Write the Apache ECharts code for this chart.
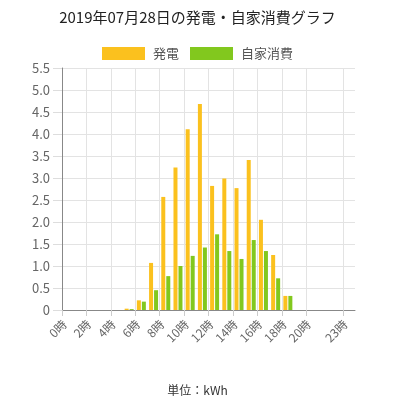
<!DOCTYPE html>
<html>
<head>
<meta charset="utf-8">
<script src="https://cdn.jsdelivr.net/npm/echarts@6/dist/echarts.min.js"></script>
<style>
html,body{margin:0;padding:0;background:#fff;}
#main{width:395px;height:400px;}
</style>
</head>
<body>
<div id="main"></div>
<script>
const hours = [0,1,2,3,4,5,6,7,8,9,10,11,12,13,14,15,16,17,18,19,20,21,22,23];
const generation = [0,0,0,0,0,0.03,0.22,1.07,2.57,3.24,4.11,4.68,2.82,2.99,2.77,3.41,2.05,1.25,0.32,0,0,0,0,0];
const selfUse    = [0,0,0,0,0,0.02,0.19,0.45,0.77,1.0,1.23,1.42,1.72,1.34,1.16,1.59,1.34,0.72,0.32,0,0,0,0,0];
const xTickHours = [0,2,4,6,8,10,12,14,16,18,20,23];
const seriesNames = ['発電','自家消費'];
const titleText = '2019年07月28日の発電・自家消費グラフ';
const unitText = '単位：kWh';

const toPoints = arr => hours.map((h,i)=>[h+0.5, arr[i]]);
const font = '"Noto Sans CJK JP", "Noto Sans", sans-serif';
const labelShift = 0.2; // label anchor sits slightly right of its tick

const chart = echarts.init(document.getElementById('main'));
chart.setOption({
  animation:false,
  textStyle:{fontFamily:font},
  title:[
    {text:titleText,left:'center',top:5,textStyle:{fontSize:15,fontWeight:'normal',color:'#222',fontFamily:font}},
    {text:unitText,left:'center',top:379,textStyle:{fontSize:12,fontWeight:'normal',color:'#333',fontFamily:font}}
  ],
  legend:{
    data:seriesNames,top:42,left:97,itemWidth:43,itemHeight:13,itemGap:11,
    textStyle:{fontSize:13,color:'#555',padding:[0,0,0,3]},
    icon:'rect',
    itemStyle:{borderWidth:0}
  },
  grid:{left:62,right:40,top:68,bottom:90,containLabel:false},
  xAxis:[{
    type:'value',min:0,max:24,
    axisLine:{show:true,lineStyle:{color:'#888'}},
    axisTick:{show:true,customValues:xTickHours,length:6,lineStyle:{color:'#ccc'}},
    axisLabel:{show:false},
    splitLine:{show:true,lineStyle:{color:'#e3e3e3'}}
  },{
    type:'value',min:-labelShift,max:24-labelShift,position:'bottom',
    axisLine:{show:false},axisTick:{show:false},splitLine:{show:false},
    axisLabel:{customValues:xTickHours,rotate:45,fontSize:12,color:'#666',margin:12,
      formatter:v=>Math.round(v)+'時'}
  }],
  yAxis:{
    type:'value',min:0,max:5.5,interval:0.5,
    axisLine:{show:true,lineStyle:{color:'#888'}},
    axisTick:{show:true,length:9,lineStyle:{color:'#ddd'}},
    axisLabel:{fontSize:13,color:'#666',margin:12,
      formatter:v=>v===0?'0':v.toFixed(1)},
    splitLine:{show:true,lineStyle:{color:'#e3e3e3'}}
  },
  series:[
    {name:seriesNames[0],type:'bar',xAxisIndex:0,data:toPoints(generation),barWidth:4,barGap:'25%',
     itemStyle:{color:'#fbc11e',borderWidth:0}},
    {name:seriesNames[1],type:'bar',xAxisIndex:0,data:toPoints(selfUse),barWidth:4,barGap:'25%',
     itemStyle:{color:'#82c81e',borderWidth:0}}
  ]
});
</script>
</body>
</html>
